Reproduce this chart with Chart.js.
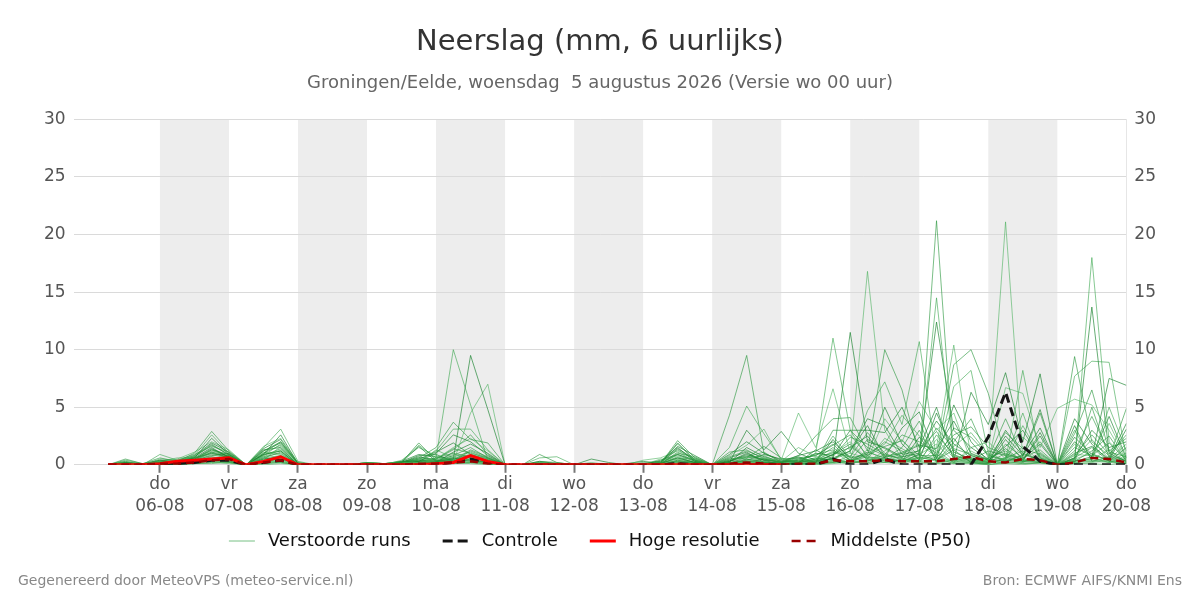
<!DOCTYPE html>
<html>
<head>
<meta charset="utf-8">
<script src="https://cdn.jsdelivr.net/npm/chart.js@4.4.1/dist/chart.umd.min.js"></script>
<style>
  html, body { margin: 0; padding: 0; background: #fff; }
  #wrap { position: relative; width: 1200px; height: 600px; font-family: "DejaVu Sans", sans-serif; }
  .foot { position: absolute; top: 572px; font-size: 14px; color: #888; }
  #footL { left: 18px; }
  #footR { right: 18px; }
</style>
</head>
<body>
<div id="wrap">
  <canvas id="rainChart" width="1200" height="600"></canvas>
  <div class="foot" id="footL">Gegenereerd door MeteoVPS (meteo-service.nl)</div>
  <div class="foot" id="footR">Bron: ECMWF AIFS/KNMI Ens</div>
</div>
<script>
// uren vanaf wo 05-08 00 uur (6 uurlijks)
const hours = [6, 12, 18, 24, 30, 36, 42, 48, 54, 60, 66, 72, 78, 84, 90, 96, 102, 108, 114, 120,
  126, 132, 138, 144, 150, 156, 162, 168, 174, 180, 186, 192, 198, 204, 210, 216, 222, 228, 234, 240,
  246, 252, 258, 264, 270, 276, 282, 288, 294, 300, 306, 312, 318, 324, 330, 336, 342, 348, 354, 360];

const tickHours = [24, 48, 72, 96, 120, 144, 168, 192, 216, 240, 264, 288, 312, 336, 360];
const tickDays = ["do", "vr", "za", "zo", "ma", "di", "wo", "do", "vr", "za", "zo", "ma", "di", "wo", "do"];
const tickDates = ["06-08", "07-08", "08-08", "09-08", "10-08", "11-08", "12-08", "13-08", "14-08", "15-08",
  "16-08", "17-08", "18-08", "19-08", "20-08"];

// verstoorde runs (mm per 6 uur)
const members = [
  [0,0.5,0.1,0.6,0.3,1.0,2.9,1.2,0,1.2,2.0,0.2, 0,0,0,0.1,0,0.2,1.9,0.4,0.3,1.2,0.6,0, 0,0.9,0.2,0,0,0,0,0,0.1,2.1,0.6,0, 4.3,9.5,1.0,0.3,0.2,0.5,1.5,0.4,0.8,2.0,1.2,0.5, 21.2,0.5,0.3,0.2,1.0,0.4,0.2,0,0.6,1.5,0.3,0.1],
  [0,0.3,0,0.9,0.4,0.8,2.6,1.0,0,1.5,3.1,0.3, 0,0,0,0.2,0.1,0.3,1.7,0.6,10.0,5.2,0.4,0, 0,0.6,0.7,0,0.1,0,0,0,0.2,1.8,0.4,0, 1.5,5.1,2.7,0.5,0.3,1.0,11.0,3.0,0.6,0.4,1.0,0.3, 14.5,0.8,0.4,0.1,0.6,1.2,0.3,0,0.4,18.0,2.0,0.5],
  [0,0.2,0.1,0.4,0.2,0.6,2.3,0.9,0,0.9,2.6,0.1, 0,0,0,0,0,0.2,1.6,0.3,0.5,9.5,4.8,0, 0,0.3,0.1,0,0.5,0.2,0,0.1,0.3,1.5,0.3,0, 0.2,3.0,1.3,2.9,1.0,0.4,0.5,11.5,2.0,1.5,0.7,1.0, 12.4,3.0,1.5,0.5,0.3,0.8,4.8,0,0.5,13.7,1.0,0.3],
  [0,0.1,0,0.3,0.5,1.1,2.0,1.3,0,1.6,2.3,0.2, 0,0,0,0.1,0,0.4,1.5,0.8,0.2,4.5,7.0,0, 0,0.2,0,0,0,0,0,0.4,0.6,1.2,0.5,0, 0.8,1.7,3.1,0.4,4.5,1.5,6.6,1.0,16.8,3.0,0.5,0.2, 1.5,10.4,0.6,0.3,21.1,0.5,0.4,0,0.9,0.8,0.5,0.2],
  [0,0.4,0.1,0.2,0.3,0.7,1.8,0.8,0,1.0,2.0,0.1, 0,0.1,0,0.2,0.1,0.2,0.6,1.5,3.7,2.2,1.9,0, 0,0.1,0.1,0,0.1,0,0,0,0.1,1.0,0.7,0, 1.1,1.3,0.5,0.2,0.8,2.5,4.0,4.1,1.2,10.0,6.5,0.8, 0.8,8.7,10.0,6.2,0.7,0.3,0.2,0,9.4,2.0,0.8,0.4],
  [0,0,0,0.5,0.4,0.9,1.6,1.1,0,0.8,1.8,0.1, 0,0,0,0.1,0,0.1,0.4,1.2,3.1,3.1,1.3,0, 0,0,0,0,0,0,0,0.2,0.3,0.8,0.3,0, 0.5,0.6,0.8,0.1,0.5,0.3,2.5,0.6,4.7,7.2,3.5,10.7, 0.5,6.8,8.2,1.0,0.4,8.2,0.6,0,7.7,9.0,8.9,0.6],
  [0,0.1,0,0.1,0.2,0.5,1.4,0.7,0,1.3,1.5,0, 0,0,0,0,0,0.3,0.3,1.0,2.6,2.0,0.8,0, 0,0.1,0,0,0,0.1,0,0,0.1,0.6,0.2,0, 0.3,0.9,0.4,0,0.2,1.0,0.8,3.0,3.0,2.8,5.0,1.5, 5.0,0.4,6.3,3.5,8.0,2.0,7.9,0,0.3,0.7,7.5,6.9],
  [0,0,0,0.3,0.6,0.6,1.2,0.9,0,0.7,1.3,0.1, 0,0,0,0.2,0.1,0.2,0.2,0.5,1.5,2.3,1.2,0, 0,0,0,0,0.2,0,0,0,0.5,0.5,0.6,0, 0.2,0.3,0.6,0.3,1.5,0.7,1.0,2.0,0.5,4.0,2.0,5.5, 3.0,4.5,0.3,0.4,6.7,6.2,1.5,4.9,5.7,5.2,3.0,0.4],
  [0,0.2,0.1,0.2,0.1,0.4,1.0,0.6,0,0.6,1.1,0, 0,0,0,0.1,0,0.1,0.5,0.3,0.8,1.5,0.6,0, 0,0,0,0,0,0,0,0.1,0,0.4,0.2,0, 0,0.5,0.2,0.1,0.1,0.2,3.0,3.0,1.5,0.8,0.6,3.0, 0.3,2.0,4.0,0.6,4.0,0.7,4.5,0,0.2,5.0,0.6,4.9],
  [0,0,0,0.1,0.3,0.3,0.9,0.5,0,1.1,0.9,0.1, 0,0,0,0,0,0.1,0.2,1.3,0.6,0.9,0.4,0, 0,0.2,0.1,0,0,0,0,0,0.2,0.3,0.1,0, 0.1,0.2,0.3,0,0.3,0.6,0.4,0.2,1.0,1.8,4.3,2.5, 1.2,0.2,1.5,2.0,0.5,4.5,0.3,0,3.0,0.4,5.0,1.2],
  [0,0.1,0,0.2,0.2,0.4,0.8,1.0,0,0.5,0.7,0, 0,0,0,0.1,0,0.3,0.3,0.2,1.1,1.8,1.0,0, 0,0,0,0,0,0,0.1,0.3,0.1,1.9,0.4,0, 0.6,1.1,0.2,0.2,0.4,0.3,0.9,1.5,2.5,0.6,0.3,0.9, 0.4,1.3,0.2,0.1,2.2,0.4,2.5,0,0.6,3.0,1.5,2.0],
  [0,0,0,0.1,0.1,0.2,0.6,0.4,0,0.4,1.6,0, 0,0,0,0,0,0.1,0.1,0.6,0.4,0.7,0.3,0, 0,0,0,0,0,0,0,0,0,0.2,0.1,0, 0,0.4,0.1,0,0,0.2,0.3,0.5,0.3,1.2,2.2,0.4, 2.2,0.6,0.4,0.3,0.2,1.6,0.3,0,1.8,0.6,0.2,0.8],
  [0,0,0,0,0.1,0.3,0.5,0.3,0,0.3,0.5,0, 0,0,0,0.1,0,0.2,0.4,0.4,0.2,0.5,0.2,0, 0,0.1,0,0,0,0,0,0,0.1,0.7,0.2,0, 0.3,0.8,0.5,0.2,0.6,0.8,1.8,0.3,0.7,0.5,1.5,3.8, 0.2,3.2,2.4,0.8,0.4,0.2,1.0,0,0.3,1.2,2.5,0.3],
  [0,0.1,0,0.1,0,0.2,0.4,0.2,0,0.2,0.4,0, 0,0,0,0,0,0,0.1,0.3,0.7,1.1,0.5,0, 0,0,0,0,0,0,0,0,0,0.1,0,0, 0,0.1,0,0,0.1,0.1,0.2,0.8,0.2,0.4,0.3,0.6, 0.6,0.1,0.2,0,0.3,0.1,0.2,0,0.1,0.2,0.4,0.1],
  [0,0,0,0.2,0.3,0.6,1.5,0.6,0,0.9,1.2,0, 0,0,0,0.2,0.1,0.2,0.8,0.9,0.3,0.4,0.2,0, 0,0,0,0,0.1,0,0,0,0.2,1.4,0.5,0, 0.9,2.0,1.0,0.4,0.3,0.2,0.6,1.2,4.0,3.4,0.9,1.2, 3.8,1.8,0.8,0.4,1.6,3.0,0.6,0,2.4,0.9,0.4,3.1],
  [0,0,0,0.1,0.2,0.3,0.3,0.2,0,0.1,0.3,0, 0,0,0,0,0,0.1,0.2,0.1,0.2,0.3,0.1,0, 0,0,0,0,0,0,0,0,0,0.2,0.1,0, 0,0.2,0.1,0,0.2,0.4,1.2,0.2,0.4,0.3,0.8,0.3, 0.1,0.4,0.6,0.2,0.1,0.3,0.8,0,0.2,0.3,0.6,0.2],
  [0,0.2,0,0.3,0.2,0.5,1.1,0.8,0,0.6,0.8,0, 0,0,0,0.1,0,0.2,0.3,0.5,1.3,2.6,0.9,0, 0,0.3,0.2,0,0,0,0,0,0.1,1.1,0.3,0, 0.4,0.6,1.6,0.6,0.2,0.5,0.7,2.4,1.8,0.9,2.6,2.0, 1.0,2.6,3.3,1.5,0.9,0.6,2.0,0,1.2,4.2,1.1,0.7],
  [0,0,0,0,0.1,0.1,0.2,0.1,0,0.1,0.2,0, 0,0,0,0,0,0,0.1,0.2,0.1,0.2,0.1,0, 0,0,0,0,0,0,0,0,0,0,0,0, 0,0,0.1,0,0,0.1,0.2,0.1,0.5,0.2,0.1,0.7, 0.3,0.2,0.1,0,0.2,0.1,0.1,0,0.1,0.6,0.2,0.1],
  [0,0.1,0,0.4,0.3,0.8,1.9,1.1,0,1.4,2.2,0.1, 0,0,0,0.1,0.1,0.3,0.9,0.7,0.5,0.8,0.3,0, 0,0,0,0,0,0,0,0,0.4,0.9,0.4,0, 0.2,1.5,0.7,0.3,0.8,1.2,2.0,0.6,0.9,5.0,1.8,0.4, 4.5,1.1,0.5,0.2,3.0,1.0,0.4,0,4.0,1.8,0.3,1.5],
  [0,0,0,0.2,0.1,0.3,0.7,0.5,0,0.2,0.6,0, 0,0,0,0,0,0.1,0.2,0.4,0.9,0.6,0.2,0, 0,0,0,0,0,0,0,0,0,0.3,0.1,0, 0,0.3,0.2,0.1,0.1,0.3,0.5,1.0,0.6,0.7,1.1,1.8, 0.7,0.3,1.2,0.4,0.6,2.4,1.1,0,0.4,0.5,3.6,0.5],
  [0,0,0,0.1,0.2,0.4,1.3,0.7,0,0.8,1.4,0, 0,0,0,0.1,0,0.1,0.3,0.2,0.4,1.3,0.7,0, 0,0,0,0,0,0.1,0,0,0.1,0.6,0.2,0, 0.5,0.7,0.4,0.2,0.4,0.9,1.3,0.4,2.2,1.4,0.6,0.2, 2.6,0.9,0.3,0.6,1.2,0.3,0.5,0,0.8,2.6,0.9,2.6],
  [0,0.1,0,0,0,0.1,0.1,0.3,0,0,0.1,0, 0,0,0,0,0,0,0.1,0.1,0.2,0.1,0,0, 0,0,0,0,0,0,0,0,0,0,0,0, 0,0.1,0,0,0,0,0.1,0.3,0.1,0.2,0.4,0.1, 0.1,0.1,0.2,0,0.1,0,0.2,0,0.1,0.1,0,0.2],
  [0,0,0,0.3,0.2,0.7,1.7,0.9,0,1.2,1.9,0.1, 0,0,0,0.1,0,0.2,0.5,1.1,1.9,0.9,0.5,0, 0,0.1,0,0,0,0,0,0,0.2,1.6,0.8,0, 0.1,0.4,0.9,0.5,0.6,0.2,0.9,1.8,0.4,0.6,3.2,4.6, 0.5,5.2,2.0,0.3,2.5,0.8,3.2,0,2.0,0.7,4.2,0.6],
  [0,0,0,0,0.1,0.2,0.3,0.4,0,0.3,0.2,0, 0,0,0,0,0,0.1,0.1,0.2,0.3,0.5,0.2,0, 0,0,0,0,0,0,0,0,0,0.1,0,0, 0,0.2,0.1,0,0.1,0.2,0.4,0.2,1.3,0.3,0.2,0.9, 1.8,0.3,0.8,0.2,0.4,0.5,0.3,0,0.5,1.0,0.3,1.0],
  [0,0.2,0,0.2,0.2,0.4,1.1,0.6,0,0.7,1.0,0, 0,0,0,0.1,0,0.1,0.3,0.6,1.0,0.7,0.3,0, 0,0,0,0,0,0,0,0,0,0.4,0.1,0, 0.2,0.5,0.3,0.1,0.2,0.4,1.1,0.7,2.8,1.0,0.4,1.3, 2.9,0.7,0.5,0.2,1.8,0.6,1.3,0,1.5,0.8,1.9,0.4],
  [0,0,0,0.1,0.1,0.3,0.7,0.3,0,0.4,0.8,0, 0,0,0,0,0,0.1,0.2,0.2,0.6,0.4,0.2,0, 0,0,0,0,0,0,0,0,0.1,0.5,0.2,0, 0.1,0.7,1.1,0.2,0.3,0.6,0.4,1.6,0.5,2.3,1.4,0.6, 0.4,1.6,2.8,0.9,0.3,3.4,0.7,0,0.6,2.2,0.5,1.8],
  [0,0.1,0,0.1,0.2,0.2,0.5,0.8,0,0.5,0.6,0, 0,0,0,0,0,0.2,0.4,0.3,0.3,0.8,0.4,0, 0,0,0,0,0,0,0,0,0,0.3,0.2,0, 0.4,0.2,0.5,0.2,0.7,0.2,2.2,0.4,1.1,0.6,0.3,2.4, 0.6,2.3,0.4,1.2,0.8,0.5,1.8,0,3.4,0.3,0.7,0.3],
  [0,0,0,0,0.1,0.1,0.4,0.2,0,0.2,0.3,0, 0,0,0,0,0,0,0.1,0.1,0.2,0.2,0.1,0, 0,0,0,0,0,0,0,0,0,0,0,0, 0,0.1,0,0,0.1,0.1,0.3,0.1,0.4,0.2,0.5,0.2, 0.2,0.4,0.2,0.1,0.5,0.2,0.3,0,0.2,0.4,0.3,0.1],
  [0,0.3,0,0.2,0.3,0.5,1.3,0.9,0,1.0,1.7,0.1, 0,0,0,0.1,0.1,0.2,0.6,0.5,1.4,1.0,0.6,0, 0,0.2,0.1,0,0,0,0,0,0.2,1.3,0.4,0, 0.7,1.2,0.6,0.2,0.5,0.8,1.7,2.6,0.8,1.6,2.1,0.8, 3.2,1.4,0.9,0.5,2.8,1.4,0.9,0,2.7,6.5,1.2,2.3],
  [0,0,0,0.1,0.1,0.2,0.5,0.4,0,0.3,0.5,0, 0,0,0,0,0,0.1,0.2,0.3,0.4,0.3,0.1,0, 0,0,0,0,0,0,0,0,0,0.2,0.1,0, 0.2,0.3,0.2,0.1,0.2,0.3,0.6,0.2,0.3,0.9,0.5,0.4, 0.9,0.2,0.6,0.3,0.2,0.9,0.4,0,0.3,0.5,1.3,0.2],
  [0,0.1,0,0.3,0.2,0.6,1.0,0.7,0,0.9,1.2,0, 0,0,0,0.1,0,0.2,0.7,0.4,0.5,0.6,0.3,0, 0,0,0,0,0,0,0,0,0.1,0.9,0.3,0, 0.3,1.0,0.4,0.3,0.2,1.3,0.5,1.2,3.4,0.7,1.0,1.7, 1.4,3.8,1.0,0.4,1.4,0.3,2.8,0,1.0,1.6,0.5,3.6],
  [0,0,0,0,0,0.1,0.2,0.2,0,0.1,0.2,0, 0,0,0,0,0,0,0,0.1,0.1,0.2,0.1,0, 0,0,0,0,0,0,0,0,0,0,0,0, 0,0.1,0.2,0,0.1,0,0.2,0.3,0.2,0.5,0.2,0.3, 0.5,0.3,0.3,0.1,0.6,0.3,0.5,0,0.4,0.3,0.2,0.6]
];

const controle = [0,0,0,0,0.1,0.2,0.4,0.4,0,0.2,0.4,0, 0,0,0,0,0,0,0,0,0.2,0.5,0.2,0,
  0,0,0,0,0,0,0,0,0,0.1,0,0, 0,0,0,0,0,0,0.5,0,0,0.5,0,0, 0,0,0,2.4,6.3,1.6,0.3,0,0,0,0,0];

// hoge resolutie loopt tot 15-08 00 uur
const hogeResolutie = [0,0,0,0.1,0.3,0.4,0.5,0.6,0,0.3,0.7,0, 0,0,0,0,0,0,0,0.1,0.2,0.8,0.3,0,
  0,0,0,0,0,0,0,0,0,0,0,0, 0,0,0,0];

const middelste = [0,0,0,0.1,0.1,0.2,0.4,0.5,0,0.2,0.4,0, 0,0,0,0,0,0,0.1,0.1,0.2,0.3,0.1,0,
  0,0,0,0,0,0,0,0,0,0.1,0,0, 0.1,0.2,0.1,0,0.1,0.1,0.4,0.3,0.3,0.4,0.3,0.3, 0.3,0.5,0.7,0.3,0.2,0.5,0.4,0,0.2,0.6,0.5,0.2];

const greens = ["rgba(40,150,60,0.62)", "rgba(55,165,75,0.6)", "rgba(25,130,45,0.66)", "rgba(70,175,90,0.58)"];
const font = "'DejaVu Sans', sans-serif";

const legendItems = [
    { text: "Verstoorde runs", color: "rgba(60,165,80,0.7)", width: 1, dash: [] },
    { text: "Controle", color: "#151515", width: 3, dash: [10, 5] },
    { text: "Hoge resolutie", color: "#ff0000", width: 3, dash: [] },
    { text: "Middelste (P50)", color: "#990000", width: 2.5, dash: [9, 6] }
];

function toPoints(values) {
    return values.map((v, i) => ({ x: hours[i], y: v }));
}

// grijze banden om de dag
const dayBands = {
    id: "dayBands",
    beforeDraw(chart) {
        const { ctx, chartArea, scales } = chart;
        ctx.save();
        ctx.fillStyle = "#ededed";
        for (let h = 24; h < 360; h += 48) {
            const x1 = scales.x.getPixelForValue(h);
            const x2 = scales.x.getPixelForValue(h + 24);
            ctx.fillRect(x1, chartArea.top, x2 - x1, chartArea.bottom - chartArea.top);
        }
        ctx.restore();
    }
};

// legenda onder de grafiek, eigen tekening voor de ruimere tussenruimte
const bottomLegend = {
    id: "bottomLegend",
    afterDraw(chart) {
        const ctx = chart.ctx;
        const lineLen = 26, textGap = 13, itemGap = 32, y = 541;
        ctx.save();
        ctx.font = "18px " + font;
        ctx.textBaseline = "middle";
        const widths = legendItems.map(it => lineLen + textGap + ctx.measureText(it.text).width);
        const total = widths.reduce((a, b) => a + b, 0) + itemGap * (legendItems.length - 1);
        let x = chart.width / 2 - total / 2;
        legendItems.forEach((it, i) => {
            ctx.strokeStyle = it.color;
            ctx.lineWidth = it.width;
            ctx.setLineDash(it.dash);
            ctx.beginPath();
            ctx.moveTo(x, y);
            ctx.lineTo(x + lineLen, y);
            ctx.stroke();
            ctx.setLineDash([]);
            ctx.fillStyle = "#111";
            ctx.fillText(it.text, x + lineLen + textGap, y);
            x += widths[i] + itemGap;
        });
        ctx.restore();
    }
};

const datasets = [
    {
        label: "Middelste (P50)", data: toPoints(middelste), borderColor: "#990000",
        borderWidth: 2.5, borderDash: [8, 5], order: 0
    },
    {
        label: "Hoge resolutie", data: toPoints(hogeResolutie), borderColor: "#ff0000",
        borderWidth: 3, order: 1
    },
    {
        label: "Controle", data: toPoints(controle), borderColor: "#151515",
        borderWidth: 3, borderDash: [9, 5], order: 2
    }
];
members.forEach((m, i) => {
    datasets.push({
        label: "Verstoorde runs", data: toPoints(m), borderColor: greens[i % greens.length],
        borderWidth: 1, order: 3
    });
});

new Chart(document.getElementById("rainChart"), {
    type: "line",
    data: { datasets: datasets },
    plugins: [dayBands, bottomLegend],
    options: {
        responsive: false,
        animation: false,
        elements: { point: { radius: 0 }, line: { tension: 0, fill: false } },
        layout: { padding: { left: 36, right: 36, bottom: 81 } },
        plugins: {
            title: {
                display: true, text: "Neerslag (mm, 6 uurlijks)", color: "#333",
                font: { family: font, size: 29, weight: "normal" }, padding: { top: 25, bottom: 8 }
            },
            subtitle: {
                display: true, text: "Groningen/Eelde, woensdag  5 augustus 2026 (Versie wo 00 uur)", color: "#666",
                font: { family: font, size: 18 }, padding: { top: 5, bottom: 25 }
            },
            legend: { display: false },
            tooltip: { enabled: false }
        },
        scales: {
            x: {
                type: "linear", min: -6, max: 360,
                afterBuildTicks: (scale) => { scale.ticks = tickHours.map(v => ({ value: v })); },
                grid: { drawOnChartArea: false, drawTicks: true, tickLength: 8, tickColor: "#777", tickWidth: 2 },
                border: { display: false },
                ticks: {
                    autoSkip: false, maxRotation: 0, padding: 1, color: "#555",
                    font: { family: font, size: 17, lineHeight: 1.3 },
                    callback: (v) => {
                        const k = tickHours.indexOf(v);
                        return k < 0 ? "" : [tickDays[k], tickDates[k]];
                    }
                }
            },
            y: {
                min: 0, max: 30, position: "left",
                grid: { color: "#dadada", drawTicks: false },
                border: { display: false },
                ticks: { stepSize: 5, padding: 8, color: "#555", font: { family: font, size: 17 } }
            },
            y2: {
                min: 0, max: 30, position: "right",
                grid: { drawOnChartArea: false, drawTicks: false },
                border: { display: true, color: "#e6e6e6" },
                ticks: { stepSize: 5, padding: 8, color: "#555", font: { family: font, size: 17 } }
            }
        }
    }
});
</script>
</body>
</html>
